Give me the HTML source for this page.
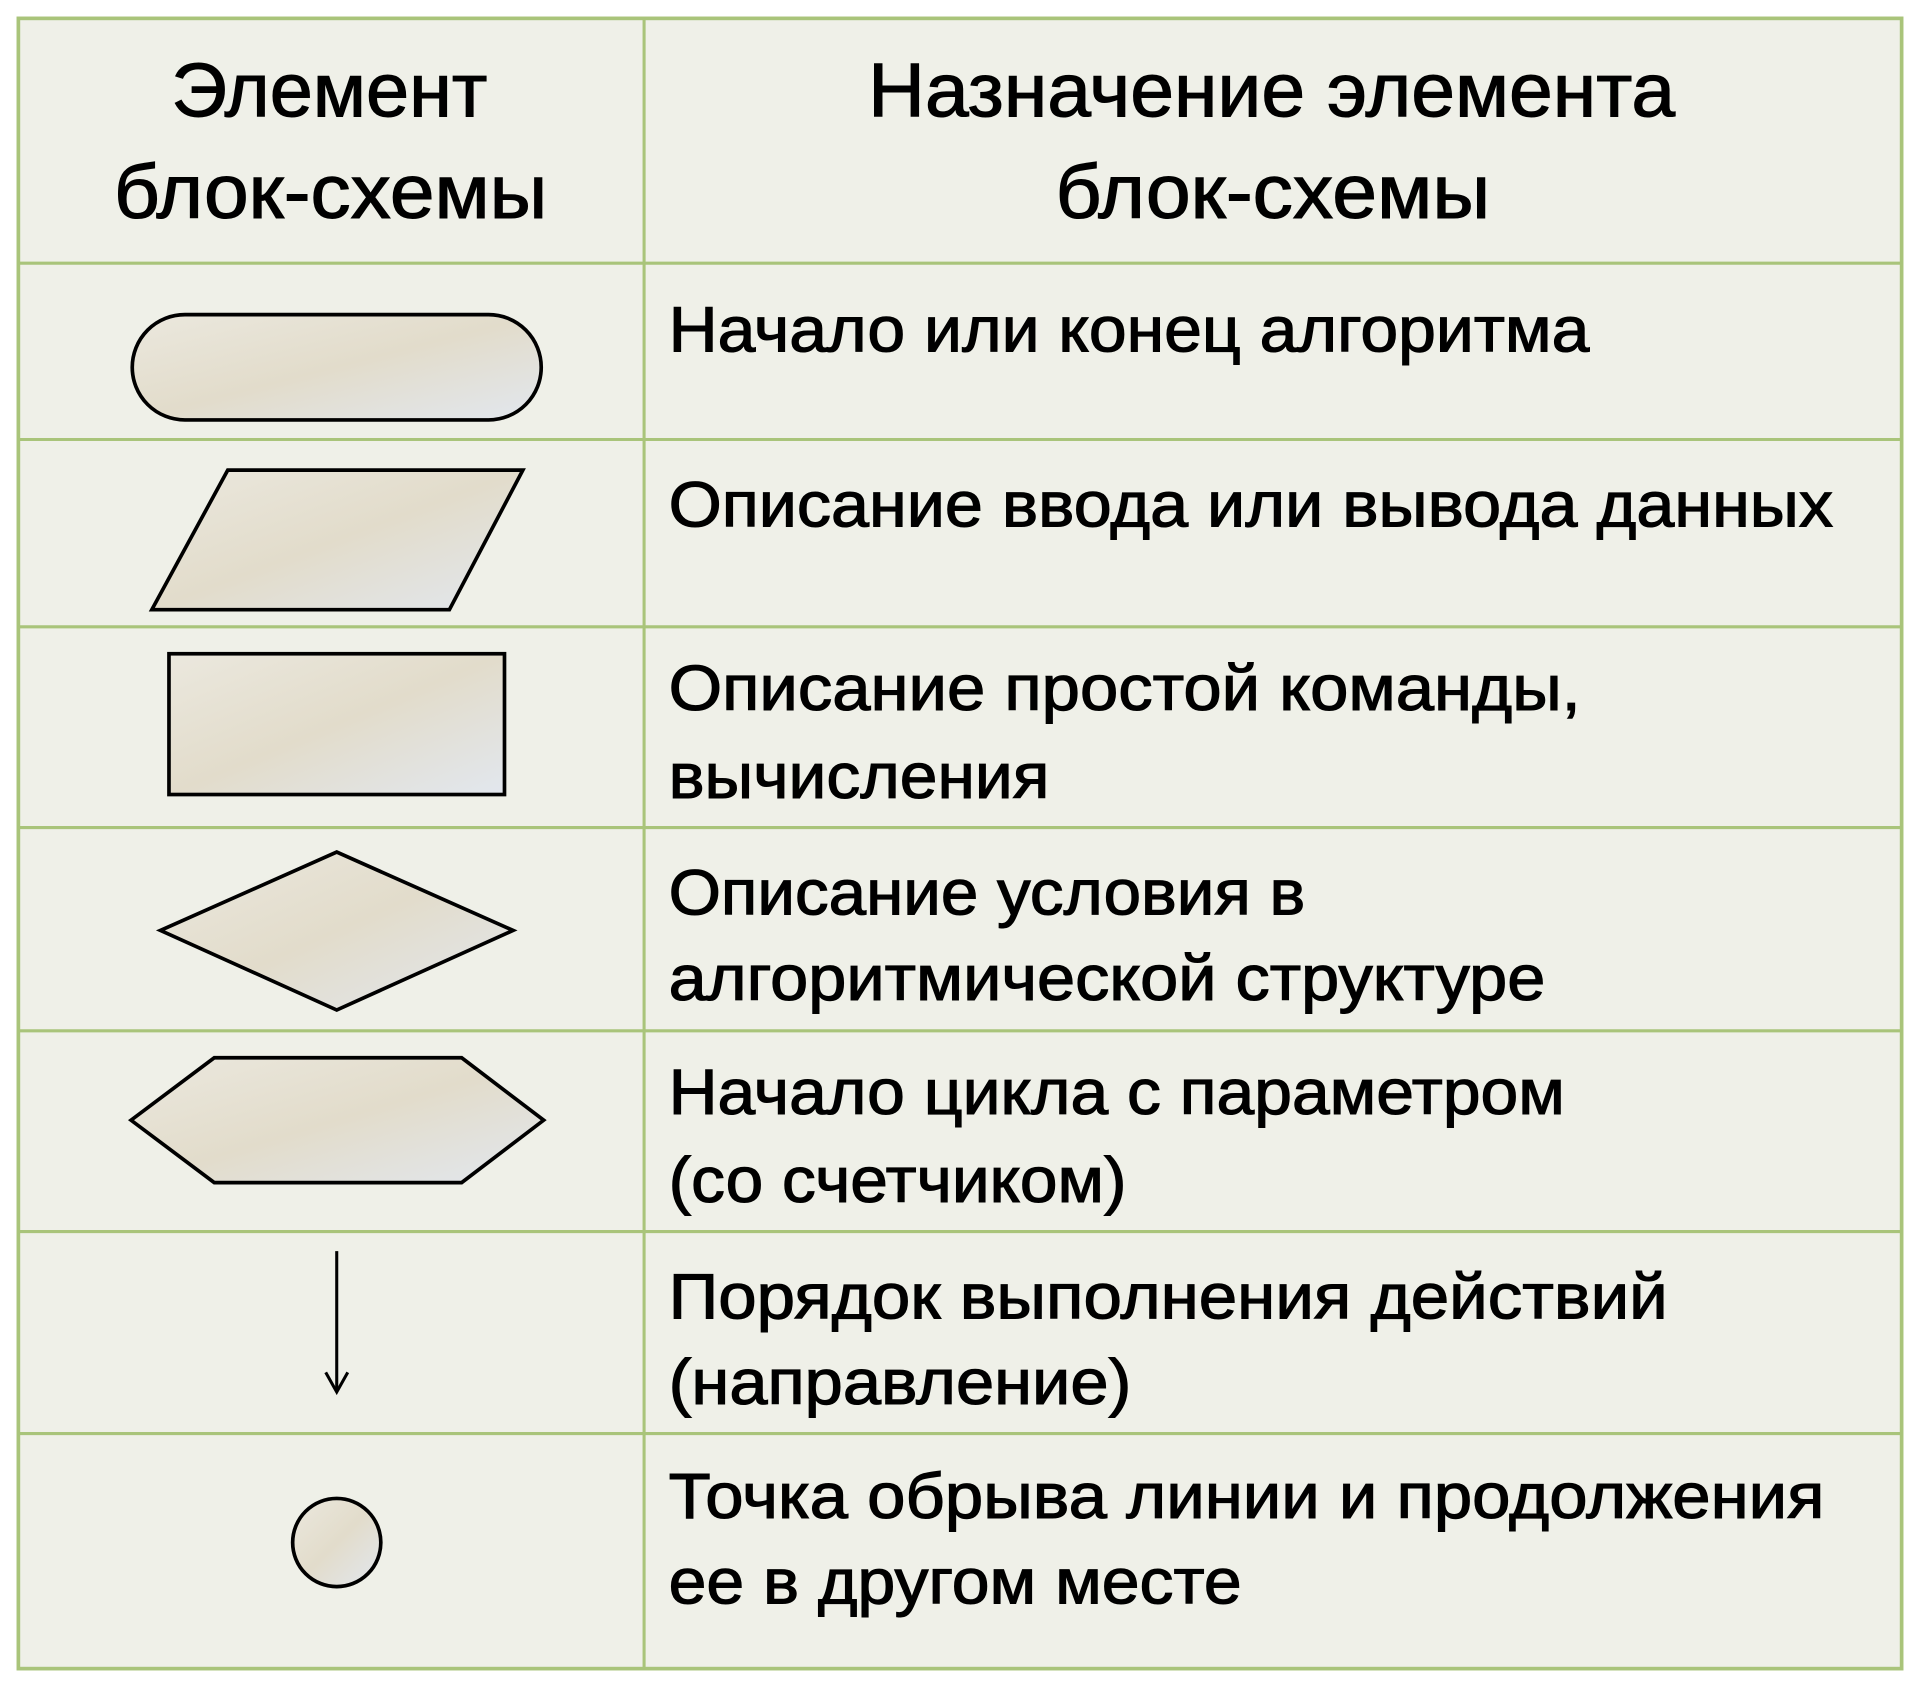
<!DOCTYPE html>
<html><head><meta charset="utf-8"><style>
html,body{margin:0;padding:0;background:#fff;}
svg{display:block;}
text{font-family:"Liberation Sans","DejaVu Sans",sans-serif;fill:#000;stroke:#000;stroke-width:0.9;}
</style></head><body>
<svg width="1920" height="1687" viewBox="0 0 1568 1378" preserveAspectRatio="none" xmlns="http://www.w3.org/2000/svg">
<defs>
<linearGradient id="g" x1="0" y1="0" x2="1" y2="1">
<stop offset="0" stop-color="#ebe8de"/><stop offset="0.5" stop-color="#e2dccb"/><stop offset="1" stop-color="#e2e7ee"/>
</linearGradient>
</defs>
<rect x="0" y="0" width="1568" height="1378" fill="#fff"/>
<rect x="15" y="15" width="1538" height="1348" fill="#eff0e8" stroke="#a9c47a" stroke-width="3"/>
<g stroke="#a9c47a" stroke-width="2.5">
<line x1="526" y1="15" x2="526" y2="1363"/>
<line x1="15" y1="215" x2="1553" y2="215"/>
<line x1="15" y1="359" x2="1553" y2="359"/>
<line x1="15" y1="512" x2="1553" y2="512"/>
<line x1="15" y1="676" x2="1553" y2="676"/>
<line x1="15" y1="842" x2="1553" y2="842"/>
<line x1="15" y1="1006" x2="1553" y2="1006"/>
<line x1="15" y1="1171" x2="1553" y2="1171"/>
</g>
<g font-size="62">
<text x="140" y="95" textLength="258" lengthAdjust="spacingAndGlyphs">Элемент</text>
<text x="93" y="178" textLength="354" lengthAdjust="spacingAndGlyphs">блок-схемы</text>
<text x="709" y="95" textLength="659" lengthAdjust="spacingAndGlyphs">Назначение элемента</text>
<text x="862" y="178" textLength="355" lengthAdjust="spacingAndGlyphs">блок-схемы</text>
</g>
<g font-size="52">
<text x="546" y="287" textLength="752" lengthAdjust="spacingAndGlyphs">Начало или конец алгоритма</text>
<text x="546" y="430" textLength="951" lengthAdjust="spacingAndGlyphs">Описание ввода или вывода данных</text>
<text x="546" y="580" textLength="745" lengthAdjust="spacingAndGlyphs">Описание простой команды,</text>
<text x="546" y="652" textLength="311" lengthAdjust="spacingAndGlyphs">вычисления</text>
<text x="546" y="747" textLength="520" lengthAdjust="spacingAndGlyphs">Описание условия в</text>
<text x="546" y="817" textLength="716" lengthAdjust="spacingAndGlyphs">алгоритмической структуре</text>
<text x="546" y="910" textLength="732" lengthAdjust="spacingAndGlyphs">Начало цикла с параметром</text>
<text x="546" y="982" textLength="374" lengthAdjust="spacingAndGlyphs">(со счетчиком)</text>
<text x="546" y="1077" textLength="816" lengthAdjust="spacingAndGlyphs">Порядок выполнения действий</text>
<text x="546" y="1147" textLength="378" lengthAdjust="spacingAndGlyphs">(направление)</text>
<text x="546" y="1240" textLength="944" lengthAdjust="spacingAndGlyphs">Точка обрыва линии и продолжения</text>
<text x="546" y="1310" textLength="468" lengthAdjust="spacingAndGlyphs">ее в другом месте</text>
</g>
<g fill="url(#g)" stroke="#000" stroke-width="3">
<rect x="108" y="257" width="334" height="86" rx="43" ry="43"/>
<polygon points="186,384 427,384 367,498 124,498"/>
<rect x="138" y="534" width="274" height="115"/>
<polygon points="131,760 275,696 419,760 275,825"/>
<polygon points="107,915 175,864 377,864 444,915 377,966 175,966"/>
<circle cx="275" cy="1260" r="36"/>
</g>
<g stroke="#000" stroke-width="2.5" fill="none">
<line x1="275" y1="1022" x2="275" y2="1137"/>
<polyline points="266,1121 275,1137 284,1121"/>
</g>
</svg>
</body></html>
